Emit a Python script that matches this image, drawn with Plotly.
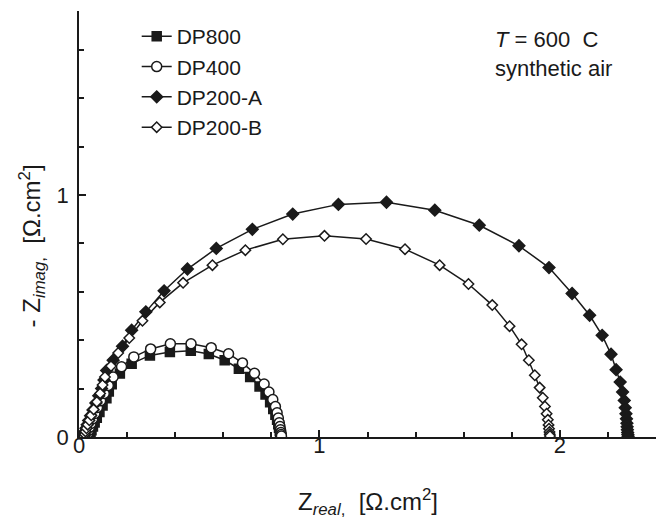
import plotly.graph_objects as go

# ---- data ----
dp800_x = [0.045, 0.048, 0.052, 0.058, 0.065, 0.074, 0.085, 0.098, 0.114, 0.124, 0.136, 0.170, 0.219, 0.295, 0.378, 0.465, 0.540, 0.606, 0.665, 0.712, 0.751, 0.776, 0.795, 0.808, 0.817, 0.824, 0.829, 0.832, 0.835, 0.837, 0.838, 0.839]
dp800_y = [0.004, 0.015, 0.028, 0.043, 0.060, 0.080, 0.103, 0.130, 0.160, 0.188, 0.218, 0.262, 0.303, 0.337, 0.351, 0.356, 0.343, 0.317, 0.282, 0.248, 0.209, 0.176, 0.144, 0.116, 0.092, 0.071, 0.053, 0.038, 0.025, 0.015, 0.007, 0.002]

dp400_x = [0.035, 0.037, 0.040, 0.044, 0.050, 0.057, 0.066, 0.077, 0.090, 0.105, 0.122, 0.142, 0.177, 0.228, 0.298, 0.380, 0.466, 0.550, 0.622, 0.680, 0.730, 0.770, 0.790, 0.806, 0.817, 0.824, 0.829, 0.833, 0.836, 0.838, 0.840, 0.841, 0.842]
dp400_y = [0.005, 0.015, 0.027, 0.040, 0.056, 0.075, 0.097, 0.122, 0.150, 0.180, 0.213, 0.248, 0.290, 0.331, 0.364, 0.385, 0.385, 0.369, 0.344, 0.306, 0.263, 0.219, 0.186, 0.155, 0.126, 0.100, 0.078, 0.059, 0.043, 0.030, 0.019, 0.010, 0.004]

dp200a_x = [0.020, 0.022, 0.025, 0.029, 0.034, 0.040, 0.048, 0.058, 0.070, 0.082, 0.094, 0.104, 0.115, 0.142, 0.181, 0.219, 0.278, 0.354, 0.451, 0.571, 0.721, 0.889, 1.079, 1.279, 1.480, 1.665, 1.830, 1.955, 2.051, 2.124, 2.176, 2.213, 2.234, 2.251, 2.261, 2.268, 2.272, 2.275, 2.277, 2.279, 2.280, 2.281, 2.282, 2.283, 2.284]
dp200a_y = [0.003, 0.012, 0.023, 0.036, 0.051, 0.068, 0.088, 0.112, 0.140, 0.170, 0.200, 0.235, 0.275, 0.317, 0.375, 0.441, 0.517, 0.604, 0.694, 0.779, 0.858, 0.921, 0.961, 0.970, 0.937, 0.875, 0.790, 0.700, 0.593, 0.503, 0.420, 0.342, 0.278, 0.227, 0.186, 0.151, 0.121, 0.096, 0.075, 0.057, 0.042, 0.030, 0.019, 0.010, 0.003]

dp200b_x = [0.022, 0.024, 0.027, 0.031, 0.036, 0.043, 0.051, 0.061, 0.074, 0.088, 0.098, 0.108, 0.133, 0.163, 0.209, 0.264, 0.336, 0.433, 0.555, 0.692, 0.848, 1.021, 1.194, 1.356, 1.500, 1.620, 1.719, 1.791, 1.841, 1.871, 1.896, 1.916, 1.929, 1.938, 1.945, 1.950, 1.953, 1.955, 1.957, 1.958, 1.959]
dp200b_y = [0.003, 0.012, 0.023, 0.036, 0.051, 0.069, 0.090, 0.114, 0.145, 0.180, 0.215, 0.248, 0.293, 0.347, 0.409, 0.480, 0.556, 0.637, 0.710, 0.772, 0.817, 0.831, 0.818, 0.776, 0.710, 0.632, 0.545, 0.458, 0.383, 0.317, 0.255, 0.204, 0.162, 0.126, 0.096, 0.071, 0.050, 0.034, 0.021, 0.011, 0.004]

names = ["DP800", "DP400", "DP200-A", "DP200-B"]
xs = [dp800_x, dp400_x, dp200a_x, dp200b_x]
ys = [dp800_y, dp400_y, dp200a_y, dp200b_y]
symbols = ["square", "circle", "diamond", "diamond"]
fills = ["#1a1a1a", "white", "#1a1a1a", "white"]
sizes = [9, 10, 9, 8]

INK = "#1a1a1a"
FONT = "Liberation Sans, Arial, sans-serif"

fig = go.Figure()
for n, x, y, s, f, sz in zip(names, xs, ys, symbols, fills, sizes):
    fig.add_trace(go.Scatter(
        x=x, y=y, name=n, mode="lines+markers",
        line=dict(color=INK, width=1.5),
        marker=dict(symbol=s, size=sz, color=f, line=dict(color=INK, width=1.5)),
    ))

axis_common = dict(
    showline=True, linecolor=INK, linewidth=1.5, mirror=False,
    showgrid=False, zeroline=False,
    ticks="inside", ticklen=7, tickwidth=1.5, tickcolor=INK,
    tickfont=dict(family=FONT, size=22, color=INK),
    minor=dict(dtick=0.2, ticks="inside", ticklen=5, tickwidth=1.5, tickcolor=INK),
)

fig.update_xaxes(range=[0, 2.4], tick0=0, dtick=1, ticklabelstandoff=-12, **axis_common)
fig.update_yaxes(range=[0, 1.76], tick0=0, dtick=1, ticklabelstandoff=4, **axis_common)

fig.add_annotation(
    text="Z<sub><i>real</i>,</sub>  [Ω.cm<sup>2</sup>]",
    xref="paper", yref="paper", x=0.5, y=-0.152, xanchor="center", yanchor="middle",
    showarrow=False, font=dict(family=FONT, size=24, color=INK),
)
fig.add_annotation(
    text="- Z<sub><i>imag</i>,</sub>  [Ω.cm<sup>2</sup>]",
    xref="paper", yref="paper", x=-0.081, y=0.448, xanchor="center", yanchor="middle",
    textangle=-90, showarrow=False, font=dict(family=FONT, size=24, color=INK),
)
fig.add_annotation(
    text="<i>T</i> = 600  C",
    xref="paper", yref="paper", x=0.7175, y=0.932, xanchor="left", yanchor="middle",
    showarrow=False, font=dict(family=FONT, size=22, color=INK),
)
fig.add_annotation(
    text="synthetic air",
    xref="paper", yref="paper", x=0.7175, y=0.864, xanchor="left", yanchor="middle",
    showarrow=False, font=dict(family=FONT, size=22, color=INK),
)

fig.update_layout(
    width=656, height=521,
    margin=dict(l=79, r=0, t=11, b=84),
    paper_bgcolor="white", plot_bgcolor="white",
    showlegend=True,
    legend=dict(x=0.10, y=0.988, xanchor="left", yanchor="top",
                bgcolor="rgba(0,0,0,0)", font=dict(family=FONT, size=21, color=INK),
                itemsizing="trace"),
)

fig.write_html("out.html")
